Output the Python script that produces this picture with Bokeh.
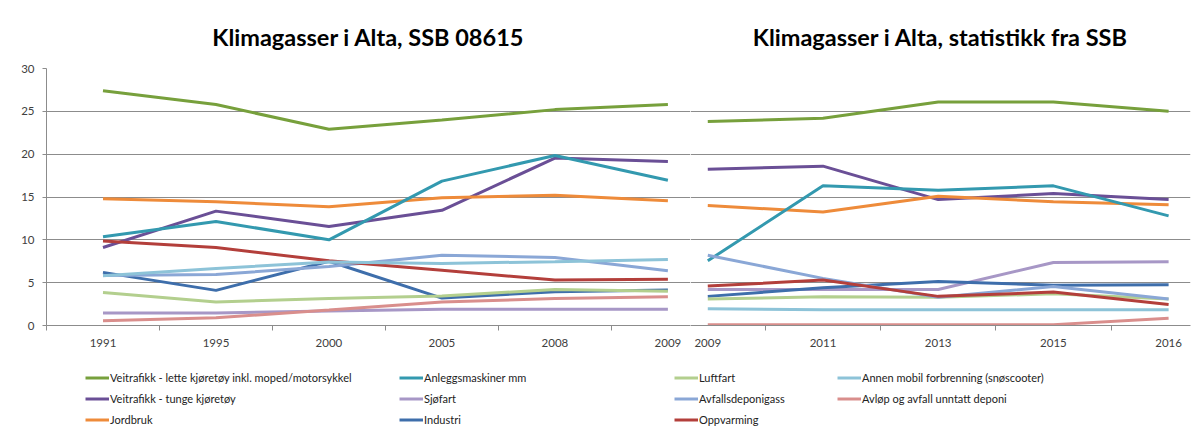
import numpy as np
from bokeh.plotting import figure
from bokeh.models import Range1d, FixedTicker, Legend, LegendItem
from bokeh.layouts import row, column
from bokeh.embed import file_html
from bokeh.resources import INLINE

# ---------------- data ----------------
years_a = ["1991", "1995", "2000", "2005", "2008", "2009"]
years_b = ["2009", "2011", "2013", "2015", "2016"]

lette_a = [27.4, 25.8, 22.9, 24.0, 25.2, 25.8]
lette_b = [23.8, 24.2, 26.1, 26.1, 25.0]
tunge_a = [9.1, 13.35, 11.55, 13.45, 19.55, 19.15]
tunge_b = [18.25, 18.6, 14.7, 15.4, 14.7]
jordbruk_a = [14.8, 14.45, 13.85, 14.9, 15.2, 14.55]
jordbruk_b = [14.0, 13.25, 15.1, 14.45, 14.1]
anlegg_a = [10.35, 12.15, 10.0, 16.85, 19.85, 16.95]
anlegg_b = [7.55, 16.3, 15.8, 16.3, 12.8]
sjofart_a = [1.45, 1.45, 1.7, 1.9, 1.9, 1.9]
sjofart_b = [4.2, 4.2, 4.2, 7.35, 7.45]
industri_a = [6.2, 4.1, 7.5, 3.2, 3.95, 4.15]
industri_b = [3.4, 4.4, 5.15, 4.7, 4.75]
luftfart_a = [3.85, 2.75, 3.15, 3.45, 4.2, 4.0]
luftfart_b = [3.1, 3.35, 3.3, 3.7, 3.1]
avfall_a = [5.85, 5.95, 6.9, 8.2, 7.95, 6.4]
avfall_b = [8.2, 5.5, 3.3, 4.55, 3.1]
oppvarming_a = [9.85, 9.1, 7.55, 6.45, 5.3, 5.4]
oppvarming_b = [4.6, 5.3, 3.4, 3.9, 2.45]
annen_a = [5.8, 6.65, 7.4, 7.25, 7.45, 7.7]
annen_b = [1.95, 1.85, 1.85, 1.85, 1.85]
avlop_a = [0.55, 0.9, 1.8, 2.75, 3.15, 3.35]
avlop_b = [0.1, 0.1, 0.1, 0.1, 0.85]

names = [
    "Veitrafikk - lette kjøretøy inkl. moped/motorsykkel",
    "Veitrafikk - tunge kjøretøy",
    "Jordbruk",
    "Anleggsmaskiner mm",
    "Sjøfart",
    "Industri",
    "Luftfart",
    "Avfallsdeponigass",
    "Oppvarming",
    "Annen mobil forbrenning (snøscooter)",
    "Avløp og avfall unntatt deponi",
]
colors = ["#77A03C", "#6A4F96", "#EE8B3A", "#3399AF", "#A797C6", "#3E6EAB",
          "#B3CF8E", "#8AA7D6", "#B33F3B", "#8DC3D8", "#D98E8C"]
series_a = [lette_a, tunge_a, jordbruk_a, anlegg_a, sjofart_a, industri_a,
            luftfart_a, avfall_a, oppvarming_a, annen_a, avlop_a]
series_b = [lette_b, tunge_b, jordbruk_b, anlegg_b, sjofart_b, industri_b,
            luftfart_b, avfall_b, oppvarming_b, annen_b, avlop_b]

title_a = "Klimagasser i Alta, SSB 08615"
title_b = "Klimagasser i Alta, statistikk fra SSB"
y_ticks = [0, 5, 10, 15, 20, 25, 30]

FONT = "Lato"
GRID = "#8C8C8C"
TXT = "#404040"


def panel(years, series, title, width, x_start, x_end, show_y, border_left, border_right):
    xs = list(np.arange(len(years)) + 0.5)
    p = figure(width=width, height=355, output_backend="svg", toolbar_location=None,
               x_range=Range1d(x_start, x_end), y_range=Range1d(0, 30),
               min_border_left=border_left, min_border_right=border_right,
               min_border_top=68, min_border_bottom=30)
    p.outline_line_color = None
    p.background_fill_color = "white"
    p.border_fill_color = "white"
    p.title.text = title
    p.title.text_font = FONT
    p.title.text_font_style = "bold"
    p.title.text_font_size = "23.5px"
    p.title.align = "center"
    p.title.text_color = "#000000"
    p.title.standoff = 35

    for vals, c in zip(series, colors):
        p.line(xs, vals, line_color=c, line_width=3)

    # x axis: labels at category centres, tick marks at category boundaries
    xa = p.xaxis[0]
    xa.ticker = FixedTicker(ticks=xs, minor_ticks=list(range(0, len(years) + 1)))
    xa.major_label_overrides = {float(x): y for x, y in zip(xs, years)}
    xa.major_tick_line_color = None
    xa.major_tick_out = 0
    xa.major_tick_in = 0
    xa.minor_tick_line_color = GRID
    xa.minor_tick_out = 5
    xa.minor_tick_in = 0
    xa.axis_line_color = GRID
    xa.major_label_standoff = 8
    xa.major_label_text_font = FONT
    xa.major_label_text_font_size = "11.5px"
    xa.major_label_text_color = TXT
    p.xgrid.visible = False

    ya = p.yaxis[0]
    ya.ticker = FixedTicker(ticks=y_ticks)
    ya.minor_tick_line_color = None
    ya.major_tick_out = 4
    ya.major_tick_in = 0
    ya.major_tick_line_color = GRID
    ya.axis_line_color = GRID
    ya.major_label_standoff = 8
    ya.major_label_text_font = FONT
    ya.major_label_text_font_size = "11.5px"
    ya.major_label_text_color = TXT
    ya.visible = show_y
    p.ygrid.ticker = FixedTicker(ticks=y_ticks)
    p.ygrid.grid_line_color = GRID
    p.ygrid.grid_line_width = 1
    return p


left = panel(years_a, series_a, title_a, 690, 0, 5.70, True, 46, 0)
right = panel(years_b, series_b, title_b, 510, 0.35, 4.69, False, 0, 10)

# ---------------- legend strip ----------------
leg = figure(width=1200, height=72, output_backend="svg", toolbar_location=None,
             x_range=Range1d(0, 1), y_range=Range1d(0, 1),
             min_border_left=0, min_border_right=0, min_border_top=0, min_border_bottom=0)
leg.outline_line_color = None
leg.axis.visible = False
leg.grid.visible = False
dummies = [leg.line([np.nan], [np.nan], line_color=c, line_width=3) for c in colors]

columns = [[0, 1, 2], [3, 4, 5], [6, 7, 8], [9, 10]]
col_x = [85, 399, 674, 837]
for idxs, cx in zip(columns, col_x):
    items = [LegendItem(label=names[i], renderers=[dummies[i]]) for i in idxs]
    lg = Legend(items=items, location=(cx, -2 + (3 - len(idxs)) * 21),
                orientation="vertical", glyph_width=24, glyph_height=19,
                label_height=19, spacing=2, label_standoff=1, padding=0, margin=0,
                border_line_color=None, background_fill_alpha=0,
                label_text_font=FONT, label_text_font_size="11px",
                label_text_color="#222222")
    leg.add_layout(lg, "center")

layout = column(row(left, right), leg)
open("out.html", "w").write(file_html(layout, INLINE))
